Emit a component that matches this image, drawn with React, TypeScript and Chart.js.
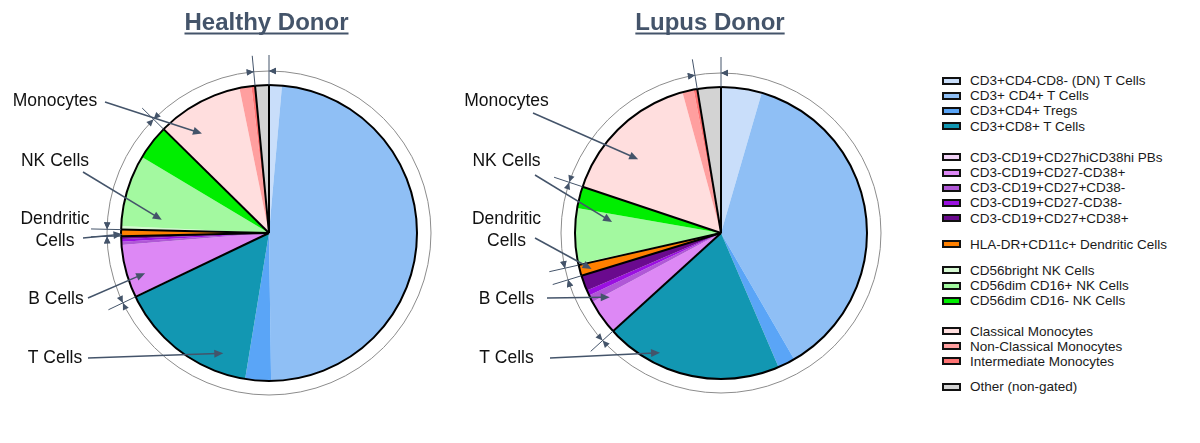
import { useEffect, useRef } from 'react';
import { Chart, registerables } from 'chart.js';

Chart.register(...registerables);

// cell populations, in pie order (clockwise from 12 o'clock)
const categories = [
  'CD3+CD4-CD8- (DN) T Cells',
  'CD3+ CD4+ T Cells',
  'CD3+CD4+ Tregs',
  'CD3+CD8+ T Cells',
  'CD3-CD19+CD27hiCD38hi PBs',
  'CD3-CD19+CD27-CD38+',
  'CD3-CD19+CD27+CD38-',
  'CD3-CD19+CD27-CD38-',
  'CD3-CD19+CD27+CD38+',
  'HLA-DR+CD11c+ Dendritic Cells',
  'CD56bright NK Cells',
  'CD56dim CD16+ NK Cells',
  'CD56dim CD16- NK Cells',
  'Classical Monocytes',
  'Non-Classical Monocytes',
  'Intermediate Monocytes',
  'Other (non-gated)',
];

const colors = [
  '#c9defa', '#8fbff5', '#5aa5f7', '#1297b2',
  '#f2d4f7', '#dd88f5', '#b058d6', '#9a10e0', '#6a0a8e',
  '#ff8000',
  '#d6f9d2', '#a3f9a0', '#00ee00',
  '#ffdede', '#ff9f9f', '#ff7474',
  '#d3d3d3',
];

// % of PBMCs
const healthyValues = [1.4, 48.3, 2.8, 15.3, 0.1, 5.7, 0.35, 0.3, 0.3, 0.7, 0.4, 7.8, 3.8, 9.4, 1.3, 0.4, 1.5];
const lupusValues = [4.5, 37.1, 1.9, 19.7, 0.1, 3.8, 0.8, 0.6, 1.7, 1.2, 0.15, 6.1, 2.4, 15.6, 1.25, 0.4, 2.6];

// lineage group of each population: T, B, DC, NK, Mono, Other
const groupOf = [0, 0, 0, 0, 1, 1, 1, 1, 1, 2, 3, 3, 3, 4, 4, 4, 5];
const groupCount = 6;
const legendGaps = [0, 16, 11, 11, 15, 10];

const SLATE = '#44546a';
const FONT = '"Liberation Sans", Arial, sans-serif';

type Callout = {
  lines: string[];
  textX: number;
  textY: number;
  fromX: number;
  fromY: number;
  tipAngle: number; // degrees clockwise from top
  tipR: number; // fraction of radius
};

const healthyCallouts: Callout[] = [
  { lines: ['Monocytes'], textX: 55, textY: 101, fromX: 105, fromY: 102, tipAngle: 326, tipR: 0.81 },
  { lines: ['NK Cells'], textX: 55, textY: 161, fromX: 83, fromY: 172, tipAngle: 277, tipR: 0.73 },
  { lines: ['Dendritic', 'Cells'], textX: 55, textY: 219, fromX: 83, fromY: 238, tipAngle: 269.5, tipR: 0.99 },
  { lines: ['B Cells'], textX: 56, textY: 299, fromX: 88, fromY: 298, tipAngle: 252, tipR: 0.88 },
  { lines: ['T Cells'], textX: 55, textY: 358, fromX: 88, fromY: 358, tipAngle: 200.8, tipR: 0.87 },
];

const lupusCallouts: Callout[] = [
  { lines: ['Monocytes'], textX: 56.5, textY: 101, fromX: 83, fromY: 113, tipAngle: 311.7, tipR: 0.76 },
  { lines: ['NK Cells'], textX: 56.5, textY: 161, fromX: 85, fromY: 175, tipAngle: 275.8, tipR: 0.75 },
  { lines: ['Dendritic', 'Cells'], textX: 56.5, textY: 219, fromX: 85, fromY: 238, tipAngle: 254.5, tipR: 0.92 },
  { lines: ['B Cells'], textX: 56.5, textY: 299, fromX: 97, fromY: 298, tipAngle: 240, tipR: 0.88 },
  { lines: ['T Cells'], textX: 56.5, textY: 358, fromX: 100, fromY: 358, tipAngle: 207, tipR: 0.92 },
];

function arrowHead(ctx: CanvasRenderingContext2D, x: number, y: number, dir: number, len: number, half: number) {
  const c = Math.cos(dir);
  const s = Math.sin(dir);
  ctx.beginPath();
  ctx.moveTo(x, y);
  ctx.lineTo(x - len * c + half * s, y - len * s - half * c);
  ctx.lineTo(x - len * c - half * s, y - len * s + half * c);
  ctx.closePath();
  ctx.fill();
}

function makeDecor(title: string, titleX: number, callouts: Callout[]) {
  return {
    id: 'donorDecor',
    afterDatasetsDraw(chart: any) {
      const ctx: CanvasRenderingContext2D = chart.ctx;
      const arcs = chart.getDatasetMeta(0).data as any[];
      if (!arcs.length) return;
      const cx = arcs[0].x;
      const cy = arcs[0].y;
      const r = arcs[0].outerRadius;
      const ringR = r + 14;

      const spans: { start: number; end: number }[] = [];
      for (let g = 0; g < groupCount; g++) {
        const first = groupOf.indexOf(g);
        const last = groupOf.lastIndexOf(g);
        spans.push({ start: arcs[first].startAngle, end: arcs[last].endAngle });
      }

      ctx.save();
      // group separators + outline
      ctx.strokeStyle = '#000';
      ctx.lineWidth = 2;
      ctx.lineJoin = 'round';
      spans.forEach(({ start }) => {
        ctx.beginPath();
        ctx.moveTo(cx, cy);
        ctx.lineTo(cx + r * Math.cos(start), cy + r * Math.sin(start));
        ctx.stroke();
      });
      ctx.beginPath();
      ctx.arc(cx, cy, r, 0, Math.PI * 2);
      ctx.stroke();

      // dimension ring
      ctx.strokeStyle = '#8c8c8c';
      ctx.lineWidth = 1;
      ctx.beginPath();
      ctx.arc(cx, cy, ringR, 0, Math.PI * 2);
      ctx.stroke();

      ctx.strokeStyle = SLATE;
      ctx.fillStyle = SLATE;
      spans.forEach(({ start }) => {
        ctx.beginPath();
        ctx.moveTo(cx + r * Math.cos(start), cy + r * Math.sin(start));
        ctx.lineTo(cx + (r + 30) * Math.cos(start), cy + (r + 30) * Math.sin(start));
        ctx.stroke();
      });
      const narrowLimit = (12 * Math.PI) / 180;
      spans.forEach(({ start, end }) => {
        const narrow = end - start < narrowLimit;
        const sx = cx + ringR * Math.cos(start);
        const sy = cy + ringR * Math.sin(start);
        const ex = cx + ringR * Math.cos(end);
        const ey = cy + ringR * Math.sin(end);
        // tangent direction of increasing angle is angle + 90deg
        const incS = start + Math.PI / 2;
        const incE = end + Math.PI / 2;
        arrowHead(ctx, sx, sy, narrow ? incS : incS + Math.PI, 7, 3.2);
        arrowHead(ctx, ex, ey, narrow ? incE + Math.PI : incE, 7, 3.2);
      });

      // callouts
      ctx.font = `17.5px ${FONT}`;
      ctx.textAlign = 'center';
      ctx.textBaseline = 'middle';
      callouts.forEach((c) => {
        ctx.fillStyle = '#111';
        c.lines.forEach((line, i) => ctx.fillText(line, c.textX, c.textY + i * 22));
        const a = ((c.tipAngle - 90) * Math.PI) / 180;
        const tx = cx + c.tipR * r * Math.cos(a);
        const ty = cy + c.tipR * r * Math.sin(a);
        const dir = Math.atan2(ty - c.fromY, tx - c.fromX);
        ctx.strokeStyle = SLATE;
        ctx.fillStyle = SLATE;
        ctx.lineWidth = 1.5;
        ctx.beginPath();
        ctx.moveTo(c.fromX, c.fromY);
        ctx.lineTo(tx - 6 * Math.cos(dir), ty - 6 * Math.sin(dir));
        ctx.stroke();
        arrowHead(ctx, tx, ty, dir, 9, 4);
      });

      // underlined title
      ctx.font = `bold 24px ${FONT}`;
      ctx.fillStyle = SLATE;
      ctx.textAlign = 'center';
      ctx.textBaseline = 'alphabetic';
      ctx.fillText(title, titleX, 30);
      const w = ctx.measureText(title).width;
      ctx.fillRect(titleX - w / 2, 32.5, w, 2);
      ctx.restore();
    },
  };
}

type PieProps = {
  title: string;
  titleX: number;
  values: number[];
  callouts: Callout[];
  left: number;
  width: number;
  padding: { left: number; right: number; top: number; bottom: number };
};

const DonorPie = ({ title, titleX, values, callouts, left, width, padding }: PieProps) => {
  const chartRef = useRef<HTMLCanvasElement | null>(null);

  useEffect(() => {
    if (!chartRef.current) return;
    const chart = new Chart(chartRef.current, {
      type: 'pie',
      data: {
        labels: categories,
        datasets: [
          {
            data: values,
            backgroundColor: colors,
            borderWidth: 0,
            hoverOffset: 0,
          },
        ],
      },
      options: {
        responsive: true,
        maintainAspectRatio: false,
        animation: false,
        layout: { padding },
        plugins: {
          legend: { display: false },
          tooltip: { enabled: false },
        },
      },
      plugins: [makeDecor(title, titleX, callouts)],
    });
    return () => chart.destroy();
  }, []);

  return (
    <div style={{ position: 'absolute', left, top: 0, width, height: 443 }}>
      <canvas ref={chartRef}></canvas>
    </div>
  );
};

const Legend = () => (
  <div
    style={{
      position: 'absolute',
      left: 942,
      top: 73,
      fontFamily: FONT,
      fontSize: '13.5px',
      color: '#1a1a1a',
    }}
  >
    {categories.map((name, i) => {
      const g = groupOf[i];
      const firstOfGroup = i > 0 && groupOf[i - 1] !== g;
      return (
        <div
          key={name}
          style={{
            display: 'flex',
            alignItems: 'center',
            height: 15.2,
            marginTop: firstOfGroup ? legendGaps[g] : 0,
            whiteSpace: 'nowrap',
          }}
        >
          <span
            style={{
              display: 'inline-block',
              width: 15,
              height: 4,
              border: '2px solid #111',
              background: colors[i],
              marginRight: 9,
            }}
          ></span>
          {name}
        </div>
      );
    })}
  </div>
);

export default function App() {
  return (
    <div style={{ position: 'absolute', left: 0, top: 0, width: 1200, height: 443, background: '#fff' }}>
      <DonorPie
        title="Healthy Donor"
        titleX={266.5}
        values={healthyValues}
        callouts={healthyCallouts}
        left={0}
        width={450}
        padding={{ left: 121, right: 33, top: 85, bottom: 62 }}
      />
      <DonorPie
        title="Lupus Donor"
        titleX={260}
        values={lupusValues}
        callouts={lupusCallouts}
        left={450}
        width={470}
        padding={{ left: 125, right: 53, top: 87, bottom: 64 }}
      />
      <Legend />
    </div>
  );
}
